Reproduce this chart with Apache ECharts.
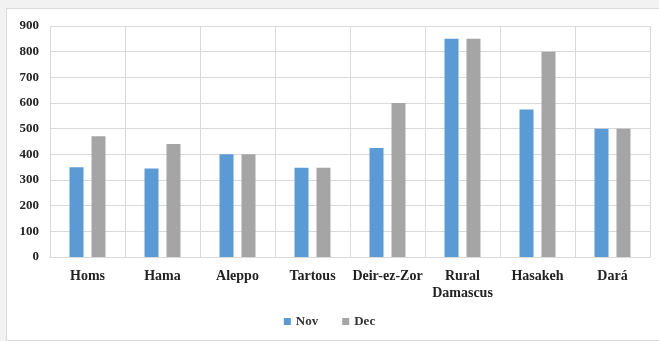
<!DOCTYPE html>
<html>
<head>
<meta charset="utf-8">
<script src="https://cdn.jsdelivr.net/npm/echarts@6/dist/echarts.min.js"></script>
<style>
  html, body { margin: 0; padding: 0; background: #f2f2f2; }
  #frame { position: absolute; left: 6px; top: 8px; width: 660px; height: 333px;
           background: #fff; border: 1px solid #d9d9d9; box-sizing: border-box; }
  #chart { position: absolute; left: 0; top: 0; width: 659px; height: 341px; }
</style>
</head>
<body>
<div id="frame"></div>
<div id="chart"></div>
<script>
const regions = ['Homs', 'Hama', 'Aleppo', 'Tartous', 'Deir-ez-Zor', 'Rural\nDamascus', 'Hasakeh', 'Dará']
const novValues = [350, 345, 400, 348, 425, 850, 575, 500]
const decValues = [470, 440, 400, 348, 600, 850, 800, 500]
const yTicks = [0, 100, 200, 300, 400, 500, 600, 700, 800, 900]

const font = '"Liberation Serif", "Times New Roman", serif'
const gridColor = '#d9d9d9'

var myChart = echarts.init(document.getElementById('chart'))
const option = {
  animation: false,
  textStyle: { fontFamily: font },
  legend: {
    bottom: 8,
    left: 'center',
    icon: 'rect',
    itemWidth: 7,
    itemHeight: 7,
    itemGap: 24,
    textStyle: { fontFamily: font, fontWeight: 'bold', fontSize: 13, color: '#333' },
    data: ['Nov', 'Dec']
  },
  grid: { left: 50, right: 9, top: 26, bottom: 84 },
  xAxis: {
    type: 'category',
    data: regions,
    axisTick: { show: false },
    axisLine: { lineStyle: { color: gridColor } },
    splitLine: { show: true, interval: 0, lineStyle: { color: gridColor } },
    axisLabel: { interval: 0, fontFamily: font, fontWeight: 'bold', fontSize: 14, color: '#222', margin: 11, lineHeight: 17 }
  },
  yAxis: {
    type: 'value',
    min: yTicks[0],
    max: yTicks[yTicks.length - 1],
    interval: 100,
    axisLine: { show: false },
    axisTick: { show: false },
    splitLine: { lineStyle: { color: gridColor } },
    axisLabel: { fontFamily: font, fontWeight: 'bold', fontSize: 13, color: '#222', margin: 11 }
  },
  series: [
    { name: 'Nov', type: 'bar', data: novValues, barWidth: 14, barGap: '57%', itemStyle: { color: '#5b9bd5' } },
    { name: 'Dec', type: 'bar', data: decValues, barWidth: 14, itemStyle: { color: '#a5a5a5' } }
  ]
}
myChart.setOption(option)
</script>
</body>
</html>
